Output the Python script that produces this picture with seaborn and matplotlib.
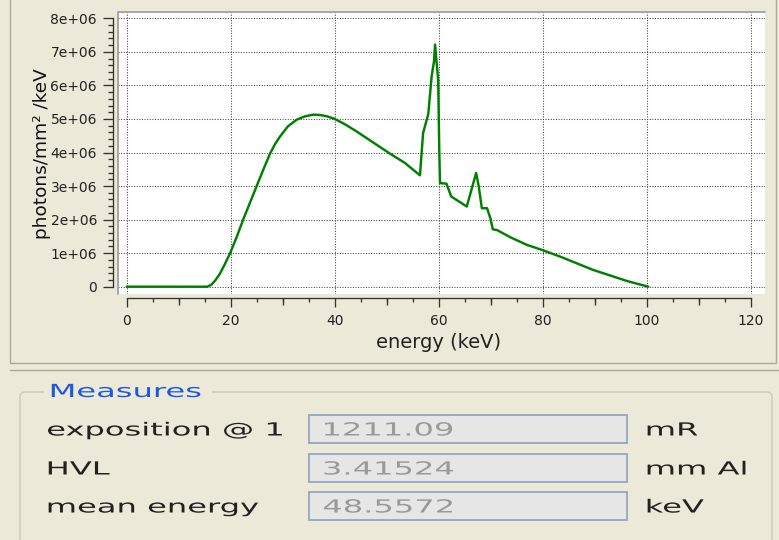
import numpy as np
import pandas as pd
import matplotlib
matplotlib.use("Agg")
import matplotlib.pyplot as plt
import seaborn as sns
from matplotlib.ticker import FixedLocator, FixedFormatter, NullLocator
from matplotlib.transforms import Affine2D
from matplotlib.patches import Rectangle, FancyBboxPatch
from matplotlib.lines import Line2D
from matplotlib.patheffects import AbstractPathEffect

# X-ray tube spectrum (photon fluence per keV)
energy_kev = [0, 15.5, 16.3, 17.0, 17.9, 18.8, 19.9, 21.2, 22.4, 23.7, 25.0,
              26.3, 27.6, 28.6, 29.5, 31.0, 32.7, 34.3, 35.9, 37.2, 38.5, 39.9,
              42.0, 44.2, 47.4, 50.6, 53.5, 56.4, 57.0, 58.0, 58.65, 59.1,
              59.3, 59.6, 59.9, 60.1, 60.25, 61.5, 62.4, 65.4, 67.2, 67.7,
              68.3, 69.3, 70.0, 70.4, 71.2, 73.7, 76.9, 79.8, 83.3, 89.7,
              96.2, 100.3]
fluence_millions = [0, 0, 0.06, 0.18, 0.38, 0.65, 1.00, 1.50, 2.00, 2.50, 3.00,
                    3.50, 3.98, 4.27, 4.48, 4.78, 4.98, 5.08, 5.13, 5.12, 5.08, 5.01,
                    4.84, 4.63, 4.30, 3.97, 3.69, 3.32, 4.58, 5.15, 6.28, 6.72,
                    7.22, 6.68, 6.18, 4.14, 3.09, 3.07, 2.69, 2.39, 3.39, 2.99,
                    2.34, 2.34, 2.01, 1.71, 1.69, 1.48, 1.25, 1.10, 0.90, 0.50,
                    0.17, 0.0]

x_ticks = [0, 20, 40, 60, 80, 100, 120]
x_tick_labels = ["0", "20", "40", "60", "80", "100", "120"]
y_ticks = [0, 1e6, 2e6, 3e6, 4e6, 5e6, 6e6, 7e6, 8e6]
y_tick_labels = ["0", "1e+06", "2e+06", "3e+06", "4e+06",
                 "5e+06", "6e+06", "7e+06", "8e+06"]

measure_names = ["exposition @ 1", "HVL", "mean energy"]
measure_values = ["1211.09", "3.41524", "48.5572"]
measure_units = ["mR", "mm Al", "keV"]

PANEL = "#ECE9D8"
INK = "#222222"


class HStretch(AbstractPathEffect):
    """Widen glyph outlines horizontally, anchored at the text's left edge."""

    def __init__(self, factor):
        super().__init__()
        self.factor = factor

    def draw_path(self, renderer, gc, tpath, affine, rgbFace=None):
        ext = tpath.get_extents(affine)
        x0 = ext.x0
        widen = Affine2D().translate(-x0, 0).scale(self.factor, 1).translate(x0, 0)
        renderer.draw_path(gc, tpath, affine + widen, rgbFace)


sns.set_style("white")
plt.rcParams["font.family"] = ["DejaVu Sans"]

W, H = 779, 540
fig = plt.figure(figsize=(W / 100, H / 100), dpi=100, facecolor=PANEL)
px = Affine2D().scale(1 / W, -1 / H).translate(0, 1) + fig.transFigure

# plot canvas
L, R, T, B = 118, 765, 12, 294
ax = fig.add_axes([L / W, 1 - B / H, (R - L) / W, (B - T) / H])
ax.set_facecolor("white")

df = pd.DataFrame({"energy": energy_kev,
                   "fluence": np.array(fluence_millions) * 1e6})
sns.lineplot(data=df, x="energy", y="fluence", ax=ax, color="#008000",
             linewidth=1.75, estimator=None, sort=False)

ax.set_xlim(-1.67, 122.75)
ax.set_ylim(-0.218e6, 8.19e6)

x_minor = [v for v in range(5, 120, 5) if v % 20]
y_minor = [v * 0.2e6 for v in range(1, 40) if v % 5]
ax.xaxis.set_major_locator(FixedLocator(x_ticks))
ax.xaxis.set_major_formatter(FixedFormatter(x_tick_labels))
ax.xaxis.set_minor_locator(FixedLocator(x_minor))
ax.yaxis.set_major_locator(FixedLocator(y_ticks))
ax.yaxis.set_major_formatter(FixedFormatter(y_tick_labels))
ax.yaxis.set_minor_locator(FixedLocator(y_minor))

ax.grid(True, which="major", color="#444444", linestyle=(0, (1, 1.5)),
        linewidth=0.75)

for side in ("top", "right"):
    ax.spines[side].set_visible(False)
ax.spines["left"].set_position(("outward", 3.3))
ax.spines["left"].set_bounds(0, 8e6)
ax.spines["bottom"].set_position(("outward", 2.9))
ax.spines["bottom"].set_bounds(0, 120)
for side in ("left", "bottom"):
    ax.spines[side].set_color("#333333")
    ax.spines[side].set_linewidth(0.95)

ax.tick_params(axis="y", which="major", direction="out", length=7.2, width=0.95,
               color="#333333", pad=4.6, labelsize=10, labelcolor=INK, left=True)
ax.tick_params(axis="y", which="minor", direction="out", length=3.6, width=0.95,
               color="#333333", left=True)
ax.tick_params(axis="x", which="major", direction="out", length=6.5, width=0.95,
               color="#333333", pad=5.0, labelsize=10, labelcolor=INK, bottom=True)
ax.tick_params(axis="x", which="minor", direction="out", length=2.9, width=0.95,
               color="#333333", bottom=True)

# medium-length ticks at the odd tens
mid = ax.secondary_xaxis("bottom")
mid.spines["bottom"].set_position(("outward", 2.9))
mid.spines["bottom"].set_visible(False)
mid.xaxis.set_major_locator(FixedLocator([10, 30, 50, 70, 90, 110]))
mid.xaxis.set_minor_locator(NullLocator())
mid.tick_params(axis="x", direction="out", length=5.0, width=0.95,
                color="#333333", labelbottom=False)

# sunken canvas frame
ax.add_line(Line2D([0, 0, 1], [0, 1, 1], transform=ax.transAxes,
                   color="#A0A0A0", linewidth=1.3, clip_on=False, zorder=5))

ax.set_xlabel("energy (keV)", fontsize=14, color=INK, va="center")
ax.xaxis.set_label_coords((438.5 - L) / (R - L), (B - 342) / (B - T))
ax.set_ylabel("photons/mm² /keV", fontsize=13.3, color="#111111", va="center")
ax.yaxis.set_label_coords((42.5 - L) / (R - L), (B - 153.5) / (B - T))

# outer panel borders
fig.add_artist(Rectangle((10, -5), 766, 368, transform=px, fill=False,
                         edgecolor="#ACA899", linewidth=1.0))
fig.add_artist(Line2D([10, W], [370, 370], transform=px, color="#ACA899",
                      linewidth=1.0))

# "Measures" group box
fig.add_artist(FancyBboxPatch((20, 392), 752, 200,
                              boxstyle="round,pad=0,rounding_size=5",
                              transform=px, facecolor="none",
                              edgecolor="#D0D0BF", linewidth=1.2))
fig.add_artist(Rectangle((44, 386), 168, 12, transform=px,
                         facecolor=PANEL, edgecolor="none"))

stretch = [HStretch(1.78)]
fig.text(50, 397, "Measures", transform=px, fontsize=13, color="#1A5AE0",
         ha="left", va="baseline", path_effects=stretch)

box_tops = [415, 454, 492]
for name, value, unit, top in zip(measure_names, measure_values,
                                  measure_units, box_tops):
    base = top + 14 + 6.5
    fig.add_artist(Rectangle((309, top), 318, 28, transform=px,
                             facecolor="#E6E6E6", edgecolor="#91A7C3",
                             linewidth=1.3))
    fig.text(47, base, name, transform=px, fontsize=13, color=INK,
             ha="left", va="baseline", path_effects=stretch)
    fig.text(323, base, value, transform=px, fontsize=13, color="#9A9A9A",
             ha="left", va="baseline", path_effects=stretch)
    fig.text(646, base, unit, transform=px, fontsize=13, color=INK,
             ha="left", va="baseline", path_effects=stretch)

fig.savefig("out.png", dpi=100, facecolor=fig.get_facecolor())
